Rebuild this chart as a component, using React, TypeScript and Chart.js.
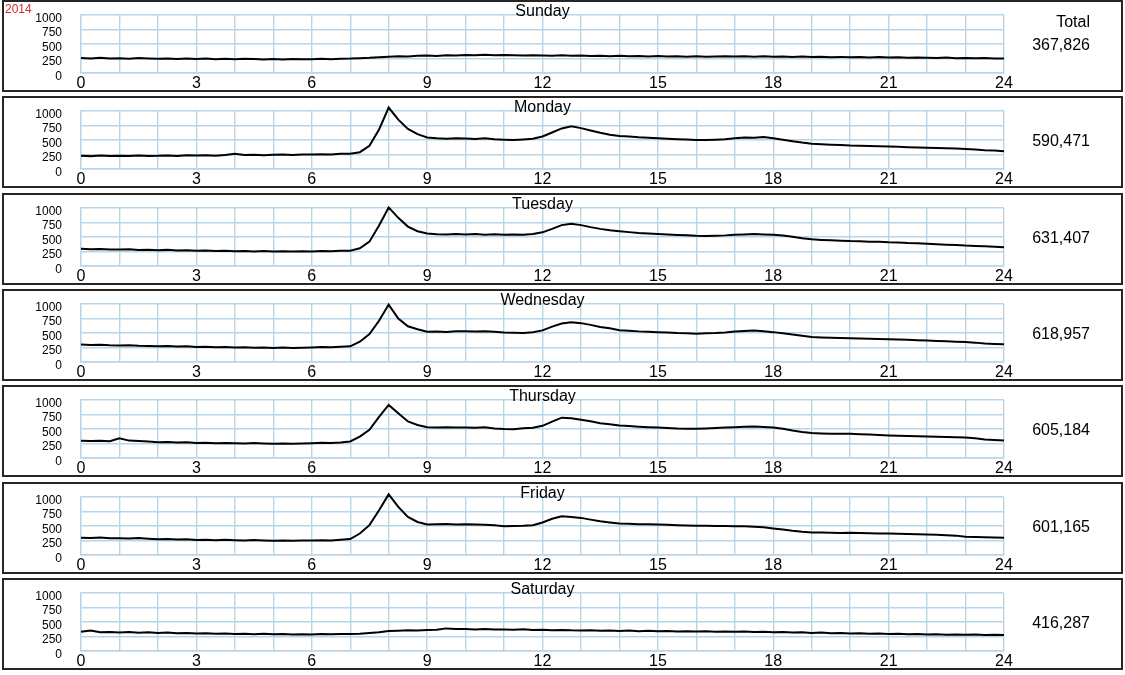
import React, { useEffect, useRef } from "react";
import { Chart, registerables } from "chart.js";

Chart.register(...registerables);
Chart.defaults.font.family = "'Liberation Sans', Arial, Helvetica, sans-serif";

const YEAR_LABEL = "2014";
const DAYS = ["Sunday", "Monday", "Tuesday", "Wednesday", "Thursday", "Friday", "Saturday"];
const TOTALS = ["367,826", "590,471", "631,407", "618,957", "605,184", "601,165", "416,287"];
const Y_TICKS = [0, 250, 500, 750, 1000];
const X_TICK_LABELS = [0, 3, 6, 9, 12, 15, 18, 21, 24];
// sample times in hours, one every 15 minutes
const TIMES = Array.from({ length: 97 }, (_, i) => i / 4);

const SUNDAY = [
  258, 250, 262, 248, 255, 246, 258, 250, 244, 252, 240, 248, 242, 250, 238, 245,
  236, 244, 240, 232, 240, 234, 242, 236, 238, 244, 236, 246, 248, 256, 262, 272,
  282, 290, 286, 296, 300, 294, 306, 302, 310, 304, 316, 308, 312, 306, 300, 308,
  302, 296, 304, 298, 300, 292, 298, 290, 296, 288, 294, 286, 292, 284, 290, 282,
  288, 280, 286, 290, 284, 290, 282, 288, 280, 286, 278, 284, 276, 282, 272, 278,
  270, 276, 268, 274, 266, 272, 262, 268, 264, 258, 266, 256, 260, 254, 258, 250,
  252,
];
const MONDAY = [
  228, 222, 234, 226, 230, 224, 232, 226, 228, 234, 226, 236, 232, 238, 230, 240,
  262, 240, 246, 238, 244, 250, 242, 252, 248, 256, 252, 262, 262, 290, 400, 680,
  1060, 850, 690, 600, 545, 530, 522, 532, 524, 518, 530, 512, 506, 498, 510, 520,
  560, 630, 700, 735, 705, 665, 625, 590, 568, 560, 548, 540, 530, 522, 514, 508,
  502, 498, 506, 512, 530, 545, 540, 550, 530, 505, 480, 455, 435, 428, 420, 414,
  405, 400, 396, 392, 388, 382, 376, 372, 368, 362, 358, 352, 345, 336, 325, 318,
  308,
];
const TUESDAY = [
  298, 290, 294, 286, 284, 290, 278, 282, 272, 278, 266, 270, 262, 268, 258, 264,
  256, 260, 252, 258, 250, 256, 248, 254, 252, 258, 254, 262, 265, 305, 420, 700,
  1010, 830, 680, 600, 562, 548, 545, 552, 545, 552, 540, 548, 538, 544, 540, 552,
  580, 640, 705, 730, 705, 670, 640, 615, 598, 584, 570, 562, 552, 545, 536, 530,
  520, 516, 522, 528, 538, 545, 550, 545, 540, 525, 505, 480, 460, 450, 442, 436,
  430, 428, 420, 418, 410, 406, 398, 394, 384, 376, 368, 362, 352, 346, 340, 334,
  322,
];
const WEDNESDAY = [
  300, 292, 296, 288, 284, 290, 280, 278, 272, 276, 266, 270, 258, 264, 254, 260,
  250, 254, 246, 250, 242, 248, 240, 246, 252, 258, 255, 264, 270, 350, 480, 710,
  990, 750, 615, 565, 520, 526, 518, 530, 532, 524, 530, 520, 510, 504, 498, 512,
  545, 610, 665, 685, 670, 640, 605, 580, 548, 540, 528, 522, 515, 508, 500, 496,
  488, 494, 500, 510, 525, 535, 545, 530, 515, 495, 475, 452, 430, 424, 418, 414,
  410, 406, 402, 398, 394, 388, 382, 376, 370, 364, 356, 350, 344, 334, 320, 312,
  304,
];
const THURSDAY = [
  298, 292, 296, 290, 340, 300, 292, 284, 272, 276, 266, 270, 258, 262, 254, 260,
  256, 250, 258, 252, 246, 252, 244, 250, 256, 262, 258, 268, 285, 370, 485, 710,
  915, 770, 630, 570, 530, 524, 532, 526, 526, 520, 530, 510, 500, 494, 512, 520,
  555, 628, 695, 686, 658, 632, 600, 580, 560, 550, 540, 532, 526, 518, 510, 506,
  503, 510, 516, 524, 531, 540, 545, 535, 526, 505, 475, 450, 430, 424, 420, 418,
  416, 410, 404, 396, 390, 384, 378, 374, 370, 365, 360, 356, 354, 340, 318, 312,
  303,
];
const FRIDAY = [
  298, 292, 300, 290, 290, 284, 292, 280, 270, 276, 266, 272, 258, 264, 256, 262,
  256, 250, 258, 252, 246, 252, 244, 250, 250, 256, 252, 262, 274, 370, 515, 770,
  1045, 830, 655, 570, 526, 530, 536, 528, 531, 525, 520, 512, 497, 500, 503, 512,
  560, 625, 668, 656, 640, 610, 583, 562, 543, 538, 530, 532, 526, 520, 514, 508,
  503, 505, 498, 500, 497, 494, 486, 478, 457, 438, 417, 400, 389, 386, 384, 380,
  383, 378, 374, 372, 371, 366, 360, 356, 354, 348, 340, 334, 314, 310, 306, 300,
  297,
];
const SATURDAY = [
  330, 352, 322, 326, 320, 326, 316, 322, 312, 318, 306, 310, 300, 306, 296, 302,
  294, 298, 290, 296, 288, 294, 286, 290, 286, 292, 288, 294, 292, 298, 310, 325,
  345, 350, 356, 352, 360, 366, 390, 380, 378, 372, 380, 370, 372, 366, 374, 364,
  366, 358, 364, 356, 352, 358, 348, 354, 346, 352, 342, 348, 340, 346, 336, 342,
  336, 340, 332, 338, 330, 336, 326, 332, 324, 328, 318, 322, 312, 318, 306, 310,
  302, 306, 296, 300, 294, 298, 290, 292, 286, 290, 282, 286, 280, 284, 276, 280,
  274,
];
const SERIES = [SUNDAY, MONDAY, TUESDAY, WEDNESDAY, THURSDAY, FRIDAY, SATURDAY];

const GRID = "rgb(184, 214, 232)";
const FONT = "'Liberation Sans', Arial, Helvetica, sans-serif";
const PANEL_PITCH = 96.33;
const CANVAS_W = 1117;
const CANVAS_H = 88;

function Panel({ index }: { index: number }) {
  const ref = useRef<HTMLCanvasElement | null>(null);
  useEffect(() => {
    if (!ref.current) return;
    const values = SERIES[index];
    const title = DAYS[index];
    const titlePlugin = {
      id: "panelTitle",
      afterDraw(chart: any) {
        const { ctx, chartArea } = chart;
        ctx.save();
        ctx.font = `16px ${FONT}`;
        ctx.fillStyle = "#000";
        ctx.textAlign = "center";
        ctx.textBaseline = "middle";
        ctx.fillText(title, (chartArea.left + chartArea.right) / 2, 9.5);
        ctx.restore();
      },
    };
    const chart = new Chart(ref.current, {
      type: "line",
      data: {
        datasets: [
          {
            data: values.map((v, i) => ({ x: TIMES[i], y: v })),
            borderColor: "#000",
            borderWidth: 2,
            pointRadius: 0,
            tension: 0,
            clip: false as any,
          },
        ],
      },
      options: {
        animation: false,
        responsive: false,
        events: [],
        layout: { padding: { left: 0, right: 117, top: 13, bottom: 0 } },
        plugins: { legend: { display: false }, tooltip: { enabled: false }, title: { display: false } },
        scales: {
          x: {
            type: "linear",
            min: 0,
            max: 24,
            afterFit: (s: any) => {
              s.height = 17;
            },
            afterBuildTicks: (s: any) => {
              s.ticks = TIMES.filter((_, i) => i % 4 === 0).map((v) => ({ value: v }));
            },
            ticks: {
              autoSkip: false,
              maxRotation: 0,
              padding: 1,
              color: "#000",
              font: { size: 16, family: FONT },
              callback: (v: any) => (X_TICK_LABELS.includes(Number(v)) ? String(v) : ""),
            },
            grid: { color: GRID, drawTicks: false, lineWidth: 1.4 },
            border: { color: GRID, width: 1.4 },
          },
          y: {
            type: "linear",
            min: 0,
            max: 1000,
            afterFit: (s: any) => {
              s.width = 77;
              s.paddingTop = 0;
              s.paddingBottom = 0;
            },
            afterBuildTicks: (s: any) => {
              s.ticks = Y_TICKS.map((v) => ({ value: v }));
            },
            ticks: {
              autoSkip: false,
              padding: 19,
              labelOffset: 3.5,
              color: "#000",
              font: { size: 12, family: FONT },
              callback: (v: any) => String(v),
            },
            grid: { color: GRID, drawTicks: false, lineWidth: 1.4 },
            border: { color: GRID, width: 1.4 },
          },
        },
      },
      plugins: [titlePlugin],
    } as any);
    return () => chart.destroy();
  }, [index]);

  const top = Math.round(index * PANEL_PITCH);
  return (
    <div
      style={{
        position: "absolute",
        left: 2,
        top,
        width: 1117,
        height: 88,
        border: "2px solid #262626",
        background: "#fff",
      }}
    >
      <canvas ref={ref} width={CANVAS_W} height={CANVAS_H} style={{ position: "absolute", left: 0, top: 0 }} />
      {index === 0 && (
        <div
          style={{
            position: "absolute",
            left: 1,
            top: 1,
            font: `12px ${FONT}`,
            color: "#d42a2a",
            lineHeight: "12px",
          }}
        >
          {YEAR_LABEL}
        </div>
      )}
      {index === 0 && (
        <div
          style={{
            position: "absolute",
            right: 31,
            top: 12,
            font: `16px ${FONT}`,
            color: "#000",
            lineHeight: "16px",
            textAlign: "right",
          }}
        >
          Total
        </div>
      )}
      <div
        style={{
          position: "absolute",
          right: 31,
          top: 35,
          font: `16px ${FONT}`,
          color: "#000",
          lineHeight: "16px",
          textAlign: "right",
        }}
      >
        {TOTALS[index]}
      </div>
    </div>
  );
}

export default function App() {
  return (
    <div style={{ position: "absolute", left: 0, top: 0, width: 1125, height: 675, background: "#fff" }}>
      {DAYS.map((_, i) => (
        <Panel key={i} index={i} />
      ))}
    </div>
  );
}
